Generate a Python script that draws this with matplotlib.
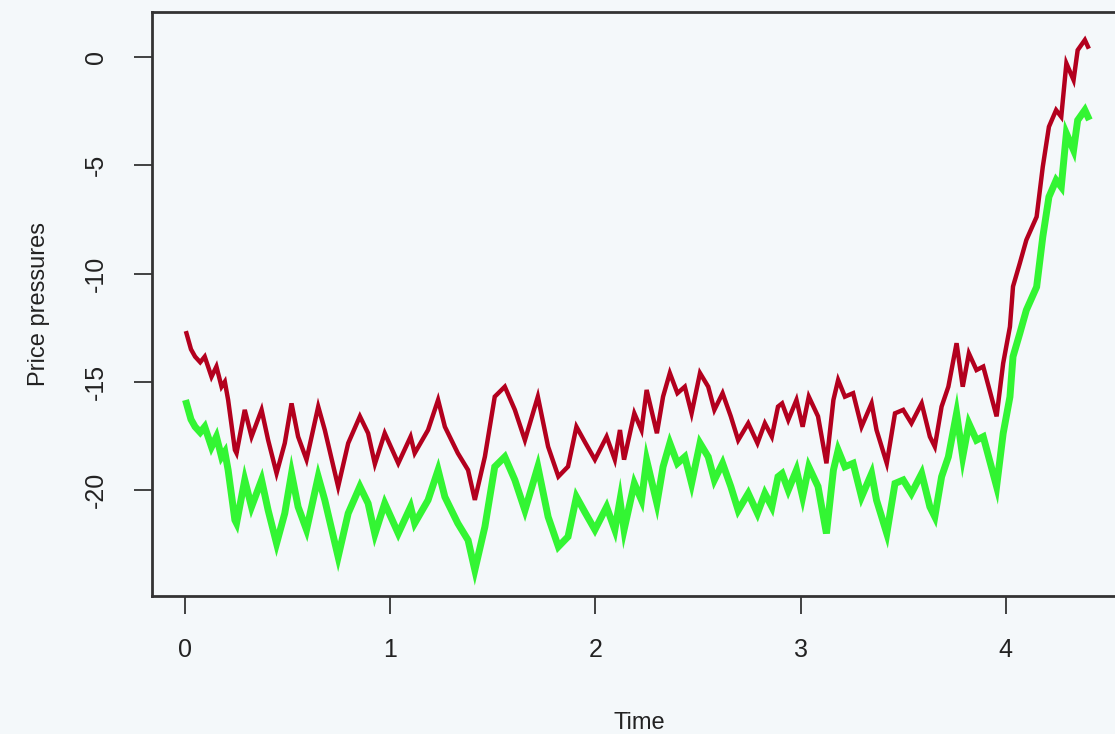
import matplotlib
matplotlib.use("Agg")
import matplotlib.pyplot as plt

time = [0.008, 0.03, 0.05, 0.075, 0.097, 0.13, 0.154, 0.179, 0.195, 0.211,
        0.244, 0.252, 0.292, 0.325, 0.374, 0.406, 0.447, 0.487, 0.52, 0.552,
        0.593, 0.65, 0.682, 0.747, 0.796, 0.853, 0.893, 0.926, 0.974, 1.04,
        1.10, 1.12, 1.185, 1.234, 1.267, 1.33, 1.38, 1.413, 1.462, 1.51,
        1.559, 1.608, 1.657, 1.72, 1.77, 1.82, 1.867, 1.908, 1.95, 1.998,
        2.055, 2.095, 2.12, 2.14, 2.19, 2.225, 2.25, 2.30, 2.33, 2.363,
        2.40, 2.436, 2.469, 2.51, 2.55, 2.58, 2.62, 2.66, 2.696, 2.745,
        2.79, 2.826, 2.86, 2.89, 2.91, 2.94, 2.98, 3.01, 3.04, 3.085,
        3.126, 3.16, 3.183, 3.216, 3.256, 3.297, 3.346, 3.37, 3.42, 3.46,
        3.50, 3.54, 3.59, 3.63, 3.654, 3.687, 3.72, 3.76, 3.79, 3.82,
        3.857, 3.89, 3.955, 3.987, 4.02, 4.035, 4.068, 4.10, 4.15, 4.18,
        4.21, 4.245, 4.27, 4.295, 4.33, 4.35, 4.385, 4.40]

red = [-12.76, -13.5, -13.84, -14.1, -13.84, -14.77, -14.3, -15.23, -15.0, -15.84,
       -18.15, -18.3, -16.3, -17.54, -16.3, -17.7, -19.23, -17.84, -16.0, -17.54,
       -18.6, -16.15, -17.23, -19.85, -17.84, -16.6, -17.38, -18.8, -17.38, -18.77,
       -17.54, -18.3, -17.23, -15.84, -17.08, -18.3, -19.08, -20.46, -18.46, -15.69,
       -15.23, -16.3, -17.7, -15.69, -18.0, -19.38, -18.92, -17.08, -17.8, -18.6,
       -17.54, -18.6, -17.23, -18.6, -16.46, -17.23, -15.38, -17.38, -15.69, -14.6,
       -15.53, -15.23, -16.46, -14.6, -15.23, -16.3, -15.53, -16.6, -17.7, -16.92,
       -17.84, -16.92, -17.54, -16.15, -16.0, -16.77, -15.84, -17.08, -15.69, -16.6,
       -18.77, -15.84, -14.92, -15.69, -15.53, -17.08, -16.0, -17.23, -18.77, -16.46,
       -16.3, -16.92, -16.0, -17.54, -18.0, -16.15, -15.23, -13.22, -15.23, -13.69,
       -14.46, -14.3, -16.6, -14.15, -12.46, -10.6, -9.53, -8.45, -7.38, -5.07,
       -3.22, -2.45, -2.76, -0.29, -1.06, 0.32, 0.79, 0.48]

green = [-16.00, -16.74, -17.08, -17.34, -17.08, -18.01, -17.54, -18.47, -18.24, -19.08,
         -21.39, -21.54, -19.54, -20.78, -19.54, -20.94, -22.47, -21.08, -19.24, -20.78,
         -21.84, -19.39, -20.47, -23.09, -21.08, -19.84, -20.62, -22.04, -20.62, -22.01,
         -20.78, -21.54, -20.47, -19.08, -20.32, -21.54, -22.32, -23.70, -21.70, -18.93,
         -18.47, -19.54, -20.94, -18.93, -21.24, -22.62, -22.16, -20.32, -21.04, -21.84,
         -20.78, -21.84, -20.47, -21.84, -19.70, -20.47, -18.62, -20.62, -18.93, -17.84,
         -18.77, -18.47, -19.70, -17.84, -18.47, -19.54, -18.77, -19.84, -20.94, -20.16,
         -21.08, -20.16, -20.78, -19.39, -19.24, -20.01, -19.08, -20.32, -18.93, -19.84,
         -22.01, -19.08, -18.16, -18.93, -18.77, -20.32, -19.24, -20.47, -22.01, -19.70,
         -19.54, -20.16, -19.24, -20.78, -21.24, -19.39, -18.47, -16.46, -18.47, -16.93,
         -17.70, -17.54, -19.84, -17.39, -15.70, -13.84, -12.77, -11.69, -10.62, -8.31,
         -6.46, -5.69, -6.00, -3.53, -4.30, -2.92, -2.45, -2.76]

xticks = [0, 1, 2, 3, 4]
yticks = [0, -5, -10, -15, -20]

BG = "#f4f8fa"
plt.rcParams["font.family"] = ["Liberation Sans", "DejaVu Sans"]

fig = plt.figure(figsize=(11.15, 7.34), dpi=100, facecolor=BG)
ax = fig.add_axes([0.1363, 0.188, 0.8744, 0.7956], facecolor=BG)

ax.plot(time, green, color="#33f533", lw=5, solid_joinstyle="miter")
ax.plot(time, red, color="#b3001e", lw=3.2, solid_joinstyle="miter")

ax.set_xlim(-0.16, 4.59)
ax.set_ylim(-24.9, 2.08)
ax.set_xticks(xticks)
ax.set_yticks(yticks)
ax.set_yticklabels([str(v) for v in yticks], rotation=90, va="center")
ax.tick_params(length=13, width=1.3, color="#333333", labelsize=18,
               labelcolor="#222222")
ax.tick_params(axis="x", pad=17)
ax.tick_params(axis="y", pad=19)
for s in ax.spines.values():
    s.set_color("#333333")
    s.set_linewidth(2)

ax.set_xlabel("Time", fontsize=17, color="#222222", labelpad=36)
ax.set_ylabel("Price pressures", fontsize=17, color="#222222", labelpad=24)

fig.savefig("out.png", dpi=100, facecolor=BG)
